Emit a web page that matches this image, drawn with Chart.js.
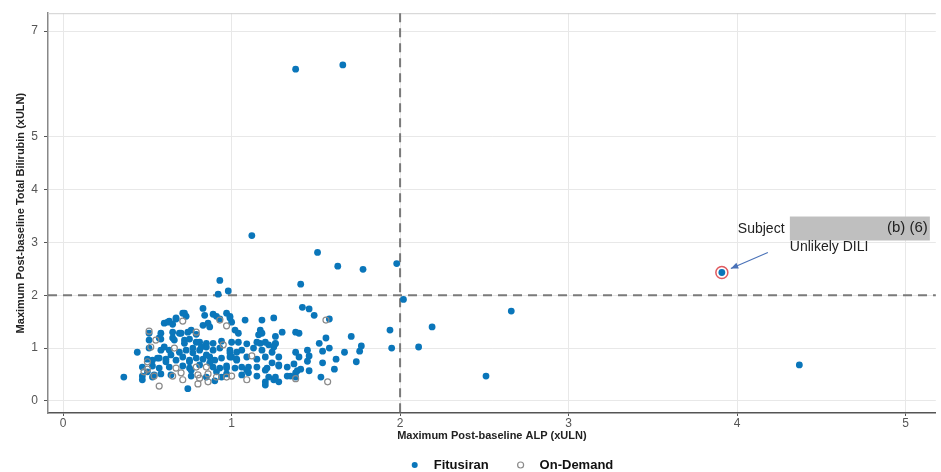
<!DOCTYPE html>
<html>
<head>
<meta charset="utf-8">
<script src="https://cdn.jsdelivr.net/npm/chart.js@4.4.0/dist/chart.umd.min.js"></script>
<style>
  body { margin: 0; background: #fff; }
</style>
</head>
<body>
<canvas id="myChart" width="941" height="472"></canvas>
<script>
// values (xULN)
const fitX = [
  1.38, 1.66, 1.12, 1.51, 1.63, 1.78, 1.98, 1.41, 0.93, 0.98, 0.92, 2.02, 2.19, 2.11, 1.94, 1.95, 2.66, 2.51, 4.37, 3.91, 0.36,
  1.42, 1.46, 1.49, 1.58, 1.30, 1.40, 1.26, 1.71, 1.56, 1.52, 1.77, 1.26, 1.38, 1.45, 1.54, 1.58, 1.67, 1.76, 1.40, 1.46,
  1.62, 1.45, 1.54, 1.74, 1.28, 1.37, 1.41, 1.61, 1.39, 1.46, 1.38, 1.33, 1.35, 1.53, 1.25, 1.28,
  0.83, 0.71, 0.73, 0.84, 0.89, 0.91, 0.97, 0.99, 0.60, 0.63, 0.65, 0.67, 0.86, 0.93, 0.83, 0.87, 1.00, 1.08, 1.18,
  0.58, 0.69, 0.76, 0.79, 1.02, 1.04, 1.17, 1.16, 1.38,
  0.51, 0.58, 0.65, 0.72, 0.75, 0.81, 0.85, 0.89, 0.94, 1.00, 1.04, 1.09, 1.17, 1.22, 1.26,
  0.44, 0.51, 0.58, 0.63, 0.69, 0.73, 0.77, 0.81, 0.85, 0.89, 0.93, 0.99, 1.03, 1.06, 1.13, 1.18, 1.24,
  0.50, 0.53, 0.57, 0.61, 0.67, 0.71, 0.75, 0.79, 0.83, 0.87, 0.90, 0.94, 0.99, 1.03, 1.09, 1.15, 1.20, 1.28,
  0.47, 0.53, 0.57, 0.63, 0.71, 0.75, 0.81, 0.89, 0.93, 0.97, 1.02, 1.06, 1.10, 1.15, 1.20, 1.28, 1.33,
  0.47, 0.53, 0.58, 0.64, 0.76, 0.85, 0.90, 0.97, 1.06, 1.15, 1.20, 1.26, 1.38, 0.74, 0.47,
  0.72, 0.67, 0.62, 0.50, 0.54, 0.56, 0.61, 0.64, 0.60, 0.57, 0.66, 0.70, 0.74, 0.72, 0.65, 0.51,
  0.99, 1.25, 1.18, 1.15, 1.20, 1.25, 1.24, 1.21, 1.22, 1.20, 1.10, 1.09, 1.03, 0.99, 1.00, 0.97, 0.94,
  0.91, 0.87, 0.85, 0.82, 0.79, 0.77, 0.75, 0.76
];
const fitY = [
  6.28, 6.36, 3.13, 2.81, 2.55, 2.49, 2.60, 2.21, 2.28, 2.08, 2.02, 1.92, 1.40, 1.02, 1.34, 1.00, 1.70, 0.47, 0.68, 2.43, 0.45,
  1.77, 1.74, 1.62, 1.55, 1.30, 1.28, 1.22, 1.22, 1.19, 1.09, 1.04, 1.08, 0.92, 0.96, 0.94, 1.00, 0.92, 0.94, 0.83, 0.85,
  0.79, 0.75, 0.72, 0.74, 0.68, 0.70, 0.60, 0.60, 0.57, 0.57, 0.53, 0.47, 0.47, 0.45, 0.40, 0.36,
  1.75, 1.66, 1.60, 1.62, 1.64, 1.60, 1.66, 1.60, 1.47, 1.51, 1.45, 1.55, 1.47, 1.55, 1.43, 1.40, 1.49, 1.53, 1.53,
  1.28, 1.28, 1.34, 1.26, 1.34, 1.28, 1.34, 1.25, 1.30,
  1.15, 1.17, 1.19, 1.15, 1.17, 1.11, 1.09, 1.09, 1.13, 1.11, 1.11, 1.08, 1.09, 1.06, 1.09,
  0.92, 1.00, 0.96, 0.96, 0.92, 0.96, 1.00, 0.96, 1.02, 0.96, 1.00, 0.96, 0.92, 0.96, 1.00, 0.96, 0.92,
  0.79, 0.77, 0.81, 0.79, 0.77, 0.83, 0.77, 0.81, 0.79, 0.83, 0.77, 0.81, 0.83, 0.79, 0.83, 0.79, 0.83, 0.83,
  0.64, 0.66, 0.62, 0.64, 0.66, 0.62, 0.68, 0.64, 0.62, 0.66, 0.62, 0.64, 0.64, 0.64, 0.58, 0.66, 0.64,
  0.47, 0.45, 0.51, 0.49, 0.47, 0.45, 0.38, 0.51, 0.49, 0.47, 0.36, 0.45, 0.45, 0.23, 0.40,
  1.66, 1.57, 1.49, 0.55, 0.49, 0.81, 0.74, 0.87, 1.02, 1.19, 1.15, 1.28, 1.30, 1.09, 1.30, 1.28,
  1.57, 1.57, 1.28, 1.11, 1.11, 1.02, 0.72, 0.62, 0.45, 0.30, 0.53, 0.58, 0.77, 0.91, 0.83, 0.62, 0.45,
  0.55, 0.72, 0.87, 1.02, 1.11, 0.91, 0.74, 0.58
];
const odX = [
  0.71, 0.97, 0.51, 0.55, 0.52, 0.66, 0.95, 1.12, 0.50, 0.67, 0.79, 0.85, 0.54, 0.65, 0.70, 0.71, 0.80,
  0.81, 0.86, 0.91, 0.97, 1.00, 1.09, 0.57, 0.80, 0.86, 1.56, 1.38, 1.57, 0.50, 0.48, 0.93, 0.79
];
const odY = [
  1.51, 1.42, 1.32, 1.15, 1.02, 1.00, 1.06, 0.85, 0.60, 0.62, 0.64, 0.64, 0.47, 0.47, 0.53, 0.40, 0.49,
  0.43, 0.51, 0.45, 0.45, 0.47, 0.40, 0.28, 0.32, 0.36, 1.53, 0.42, 0.36, 0.74, 0.55, 1.53, 1.30
];
const xTicks = [0, 1, 2, 3, 4, 5];
const yTicks = [0, 1, 2, 3, 4, 5, 7];
const refX = 2, refY = 2;
const subject = { x: 3.91, y: 2.43 };

const blue = '#0a76ba';
const tickFont = { family: 'Liberation Sans', size: 12 };
const titleFont = { family: 'Liberation Sans', size: 11, weight: 'bold' };

// dashed reference lines + top frame line
const refLines = {
  id: 'refLines',
  beforeDatasetsDraw(chart) {
    const { ctx, chartArea: a, scales: { x, y } } = chart;
    ctx.save();
    ctx.strokeStyle = '#d0d0d0';
    ctx.lineWidth = 1;
    ctx.beginPath();
    ctx.moveTo(a.left, a.top + 0.5);
    ctx.lineTo(a.right, a.top + 0.5);
    ctx.stroke();
    ctx.strokeStyle = '#7a7a7a';
    ctx.lineWidth = 2;
    ctx.setLineDash([9, 6]);
    const px = x.getPixelForValue(refX);
    ctx.beginPath();
    ctx.moveTo(px, a.top);
    ctx.lineTo(px, a.bottom);
    ctx.stroke();
    const py = y.getPixelForValue(refY);
    ctx.beginPath();
    ctx.moveTo(a.left, py);
    ctx.lineTo(a.right, py);
    ctx.stroke();
    ctx.restore();
  }
};

// callout for the highlighted subject
const callout = {
  id: 'callout',
  afterDatasetsDraw(chart) {
    const { ctx, scales: { x, y } } = chart;
    const px = x.getPixelForValue(subject.x);
    const py = y.getPixelForValue(subject.y);
    ctx.save();
    ctx.strokeStyle = '#e05a5f';
    ctx.lineWidth = 1.5;
    ctx.beginPath();
    ctx.arc(px, py, 6, 0, Math.PI * 2);
    ctx.stroke();

    ctx.fillStyle = '#bfbfbf';
    ctx.fillRect(px + 68, py - 56, 140, 24);

    ctx.fillStyle = '#222';
    ctx.textBaseline = 'middle';
    ctx.font = '14px "Liberation Sans"';
    ctx.textAlign = 'left';
    ctx.fillText('Subject', px + 16, py - 43);
    ctx.fillText('Unlikely DILI', px + 68, py - 25);
    ctx.font = '15px "Liberation Sans"';
    ctx.textAlign = 'right';
    ctx.fillText('(b) (6)', px + 206, py - 45);

    // arrow
    const x1 = px + 46, y1 = py - 20, x2 = px + 9, y2 = py - 4;
    ctx.strokeStyle = '#4a72b8';
    ctx.fillStyle = '#4a72b8';
    ctx.lineWidth = 1.2;
    ctx.beginPath();
    ctx.moveTo(x1, y1);
    ctx.lineTo(x2, y2);
    ctx.stroke();
    const ang = Math.atan2(y2 - y1, x2 - x1);
    ctx.beginPath();
    ctx.moveTo(x2, y2);
    ctx.lineTo(x2 - 8 * Math.cos(ang - 0.4), y2 - 8 * Math.sin(ang - 0.4));
    ctx.lineTo(x2 - 8 * Math.cos(ang + 0.4), y2 - 8 * Math.sin(ang + 0.4));
    ctx.closePath();
    ctx.fill();
    ctx.restore();
  }
};

// bottom legend, ggplot-like spacing
const bottomLegend = {
  id: 'bottomLegend',
  afterDraw(chart) {
    const { ctx } = chart;
    const sets = chart.data.datasets;
    ctx.save();
    ctx.font = 'bold 13px "Liberation Sans"';
    ctx.textBaseline = 'middle';
    ctx.textAlign = 'left';
    const w = sets.map(d => ctx.measureText(d.label).width);
    const total = sets.length * 19 + w.reduce((a, b) => a + b, 0) + (sets.length - 1) * 32;
    let cx = 514 - total / 2;
    const cy = 465;
    sets.forEach((d, i) => {
      ctx.beginPath();
      ctx.arc(cx, cy, 3, 0, Math.PI * 2);
      if (d.borderWidth > 0) {
        ctx.strokeStyle = d.borderColor;
        ctx.lineWidth = d.borderWidth;
        ctx.stroke();
      } else {
        ctx.fillStyle = d.backgroundColor;
        ctx.fill();
      }
      ctx.fillStyle = '#111';
      ctx.fillText(d.label, cx + 19, cy);
      cx += 19 + w[i] + 32;
    });
    ctx.restore();
  }
};

const ctx = document.getElementById('myChart').getContext('2d');
const chart = new Chart(ctx, {
  type: 'scatter',
  data: {
    datasets: [
      {
        label: 'Fitusiran',
        data: fitX.map((v, i) => ({ x: v, y: fitY[i] })),
        backgroundColor: blue,
        borderColor: blue,
        borderWidth: 0,
        pointRadius: 3.4,
        order: 1
      },
      {
        label: 'On-Demand',
        data: odX.map((v, i) => ({ x: v, y: odY[i] })),
        backgroundColor: 'rgba(0,0,0,0)',
        borderColor: '#8a8a8a',
        borderWidth: 1.2,
        pointRadius: 3,
        order: 0
      }
    ]
  },
  options: {
    responsive: false,
    animation: false,
    layout: { padding: { top: 12, right: 1, left: 14, bottom: 29 } },
    plugins: {
      tooltip: { enabled: false },
      legend: { display: false }
    },
    scales: {
      x: {
        type: 'linear',
        min: -0.09,
        max: 5.18,
        afterBuildTicks: s => { s.ticks = xTicks.map(v => ({ value: v })); },
        afterFit: s => { s.height = 30; },
        grid: { color: '#e8e8e8', lineWidth: 1, tickLength: 3, tickColor: '#555' },
        border: { display: true, color: '#555', width: 1.5 },
        ticks: { color: '#555', font: tickFont, padding: 0 },
        title: { display: true, text: 'Maximum Post-baseline ALP (xULN)', color: '#222', font: titleFont, padding: { top: 0, bottom: 0 } }
      },
      y: {
        type: 'linear',
        min: -0.23,
        max: 7.34,
        afterBuildTicks: s => { s.ticks = yTicks.map(v => ({ value: v })); },
        afterFit: s => { s.width = 34; },
        grid: { color: '#e8e8e8', lineWidth: 1, tickLength: 4, tickColor: '#555' },
        border: { display: true, color: '#888', width: 1.5 },
        ticks: { color: '#555', font: tickFont, padding: 6 },
        title: { display: true, text: 'Maximum Post-baseline Total Bilirubin (xULN)', color: '#222', font: titleFont, padding: { top: 0, bottom: 0 } }
      }
    }
  },
  plugins: [refLines, callout, bottomLegend]
});
</script>
</body>
</html>
